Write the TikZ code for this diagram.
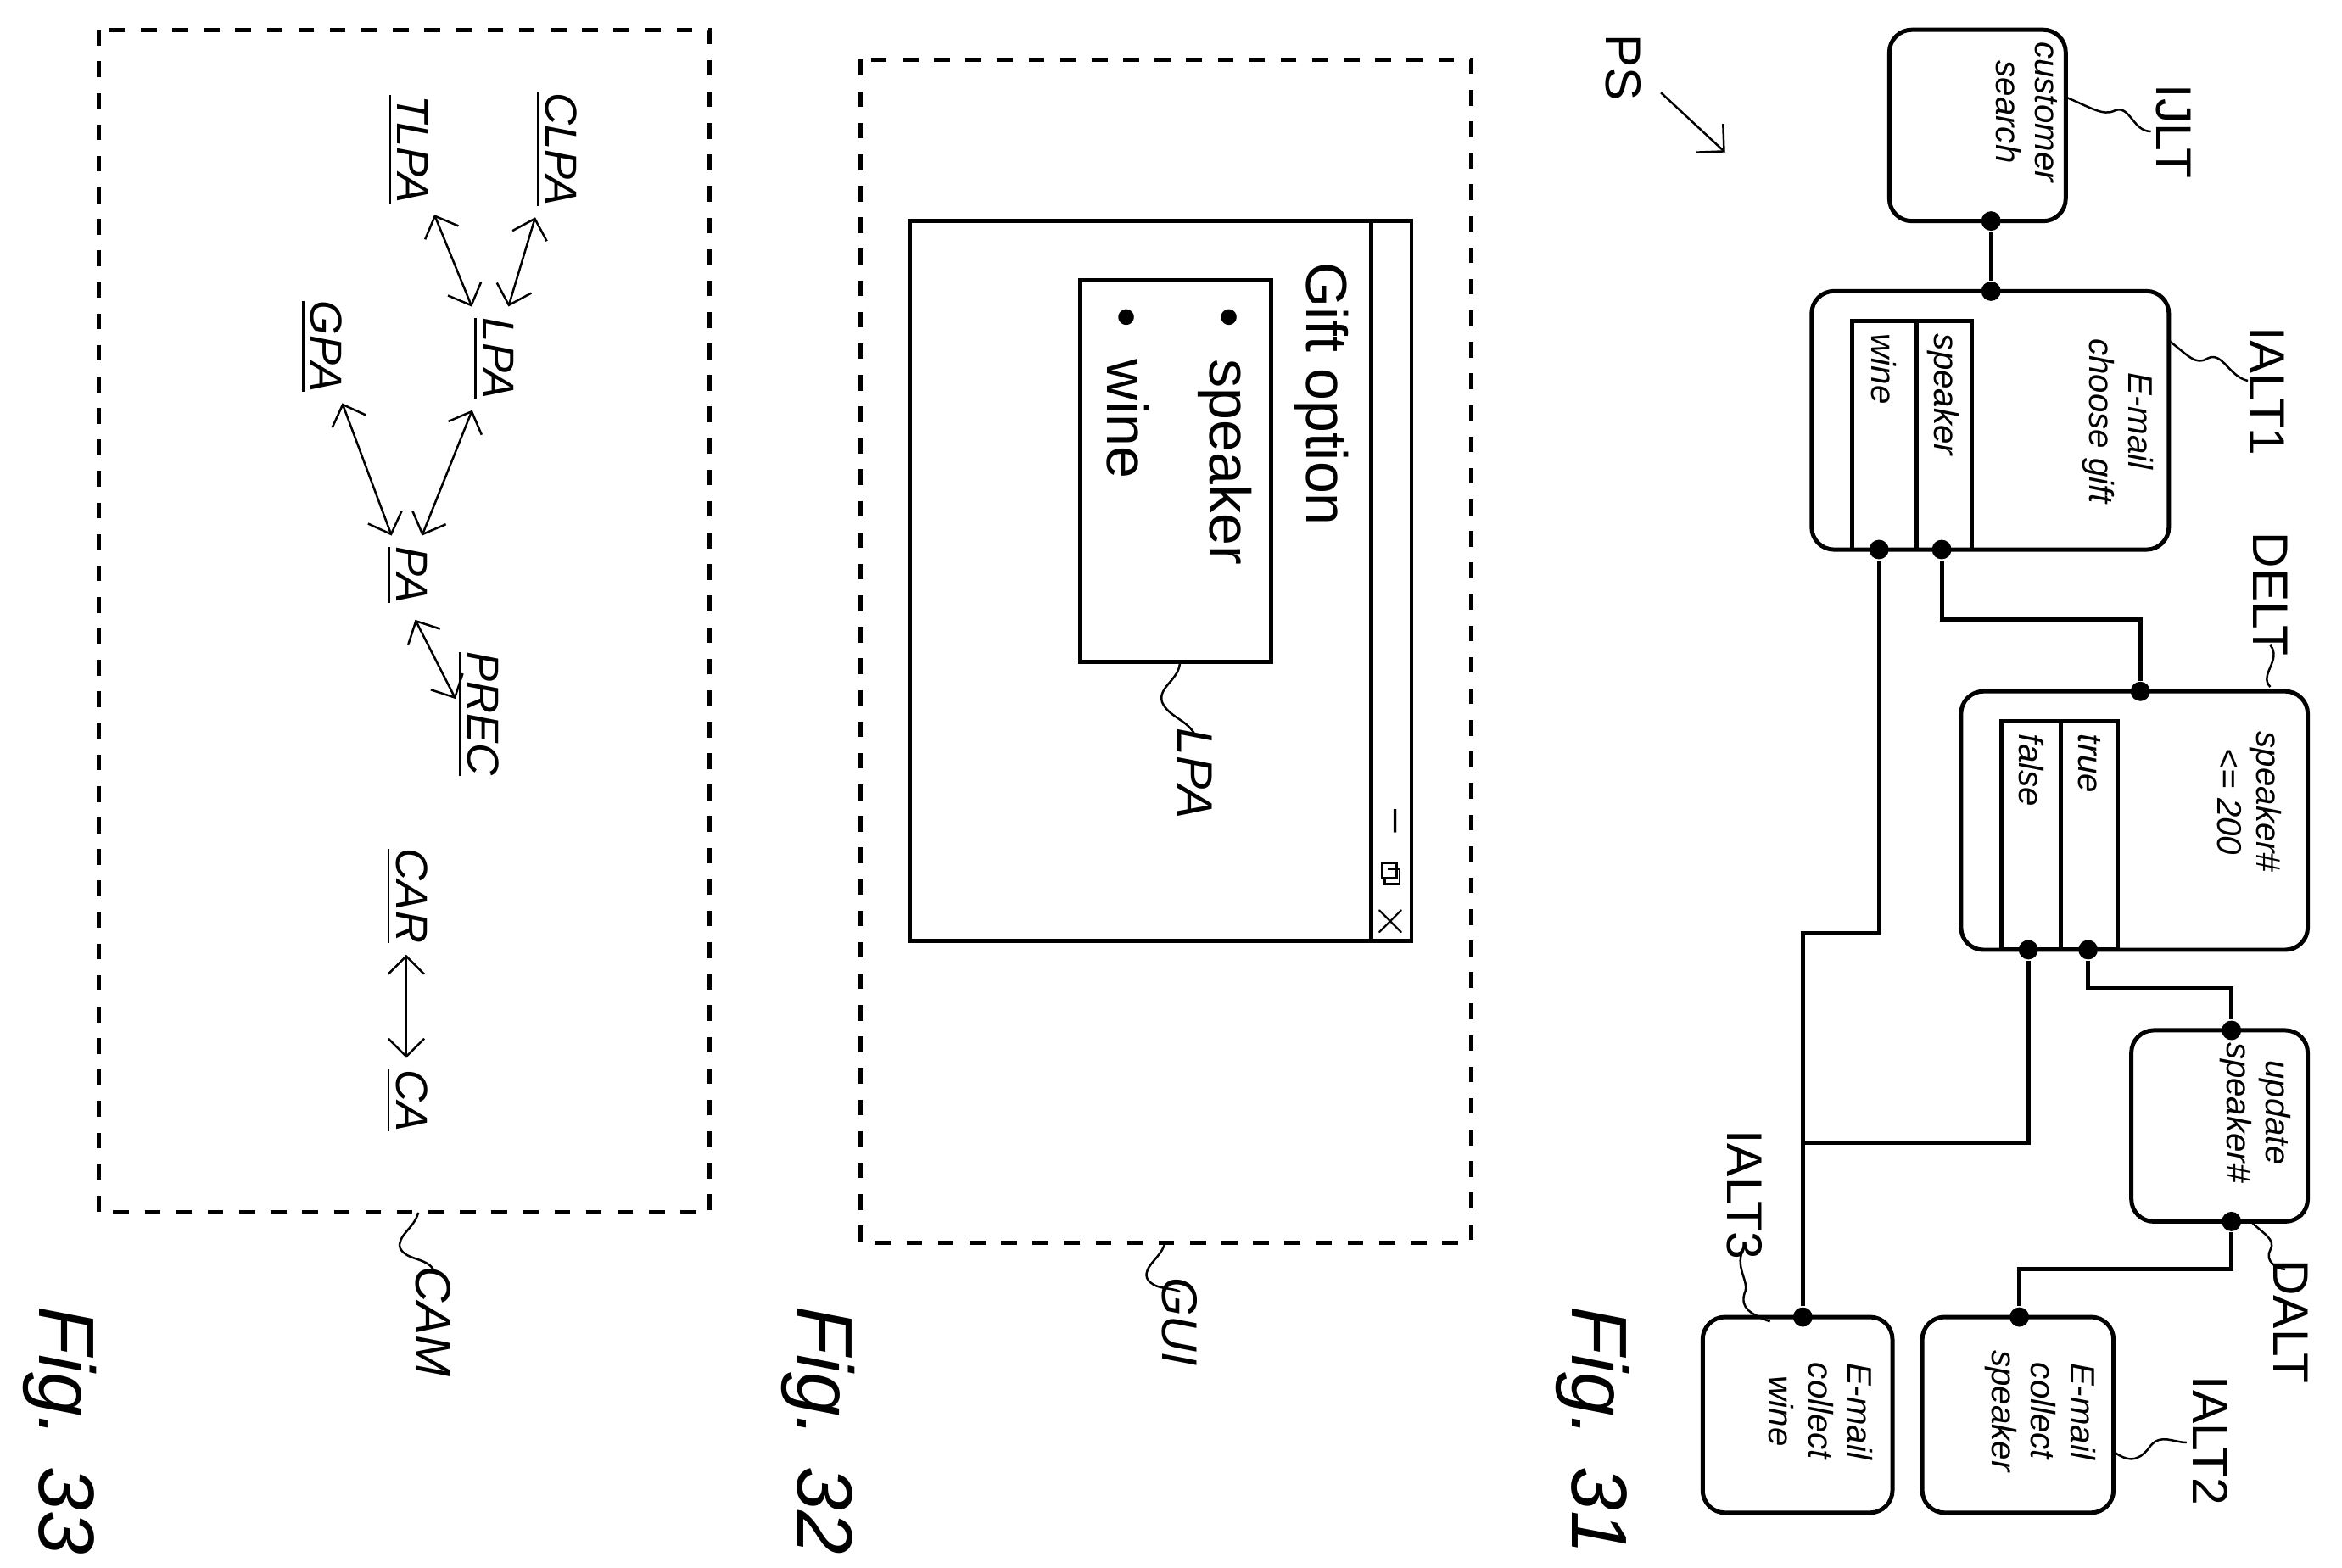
\documentclass[tikz,border=0pt]{standalone}
\usepackage{fontspec}
\setmainfont{Liberation Sans}
\usetikzlibrary{arrows.meta, positioning}
\tikzset{
  box/.style = {draw, thick, rounded corners=0.15cm, rotate=-90, inner sep=0pt},
  boxtxt/.style = {rotate=-90, align=center, inner sep=0pt,
    font=\fontsize{6.5}{7.5}\selectfont\itshape},
  coltxt/.style = {rotate=-90, anchor=west, inner sep=0pt,
    font=\fontsize{6.5}{7.5}\selectfont\itshape},
  lbl/.style = {rotate=-90, inner sep=0pt, font=\fontsize{9.5}{10}\selectfont},
  ilbl/.style = {rotate=-90, inner sep=0pt, font=\fontsize{9.5}{10}\selectfont\itshape},
  ulbl/.style = {rotate=-90, inner sep=1pt, font=\fontsize{8.5}{9}\selectfont\itshape},
  fig/.style = {rotate=-90, inner sep=0pt, font=\fontsize{15}{17}\selectfont\itshape},
  dot/.style = {circle, fill, inner sep=0pt, minimum size=0.13cm},
  wire/.style = {thick},
  frame/.style = {thick, dashed},
  squig/.style = {thin},
  pa/.style = {{Straight Barb[length=1.2mm]}-{Straight Barb[length=1.2mm]}, thin, shorten <=1pt, shorten >=1pt}
}
\begin{document}
\begin{tikzpicture}[x=0.01cm, y=-0.01cm]
  \useasboundingbox (0,0) rectangle (1568,1050);

  %% Fig. 31

  % boxes
  \node[box, minimum width=1.28cm, minimum height=1.18cm] (ijlt) at (1324,84) {};
  \node[box, minimum width=1.73cm, minimum height=2.39cm] (ialt1) at (1332.5,281.5) {};
  \node[box, minimum width=1.73cm, minimum height=2.32cm] (delt) at (1429,549.5) {};
  \node[box, minimum width=1.28cm, minimum height=1.18cm] (dalt) at (1486,754) {};
  \node[box, minimum width=1.31cm, minimum height=1.28cm] (ialt2) at (1351,947.5) {};
  \node[box, minimum width=1.31cm, minimum height=1.27cm] (ialt3) at (1203.5,947.5) {};

  % texts
  \node[boxtxt] at (1357,75) {customer\\search};
  \node[boxtxt] at (1418,282) {E-mail\\choose gift};
  \node[boxtxt] at (1506,537) {speaker\#\\<= 200};
  \node[boxtxt] at (1510,745) {update\\speaker\#};
  \node[boxtxt] at (1366,945) {E-mail\\collect\\speaker};
  \node[boxtxt] at (1219,945) {E-mail\\collect\\wine};

  % columns
  \draw[thick] (1240,215) rectangle (1320,368) (1283,215) -- (1283,368);
  \node[coltxt] at (1301,223) {speaker};
  \node[coltxt] at (1261,223) {wine};
  \draw[thick] (1340,483) rectangle (1418,636) (1380,483) -- (1380,636);
  \node[coltxt] at (1399,491) {true};
  \node[coltxt] at (1360,491) {false};

  % dots
  \node[dot] (p1) at (1333,148) {};
  \node[dot] (p2) at (1333,195) {};
  \node[dot] (sp) at (1300,368) {};
  \node[dot] (wn) at (1258,368) {};
  \node[dot] (din) at (1433,463) {};
  \node[dot] (tr) at (1398,636) {};
  \node[dot] (fa) at (1358,636) {};
  \node[dot] (ain) at (1494,690) {};
  \node[dot] (aout) at (1494,818) {};
  \node[dot] (c2) at (1352,882) {};
  \node[dot] (c3) at (1207,882) {};

  % wires
  \draw[wire] (p1) -- (p2);
  \draw[wire] (sp) -- (1300,415) -| (din);
  \draw[wire] (tr) -- (1398,662) -| (ain);
  \draw[wire] (aout) -- (1494,850) -| (c2);
  \draw[wire] (wn) -- (1258,625) -| (c3);
  \draw[wire] (fa) -- (1358,765) -- (1207,765);

  % labels
  \node[lbl] (l-ijlt) at (1455,88) {IJLT};
  \draw[squig] (1383,65) .. controls (1400,72) and (1408,78) .. (1416,74) .. controls (1426,70) and (1428,88) .. (1440,88);
  \node[lbl] (l-ialt1) at (1518,262) {IALT1};
  \draw[squig] (1452,228) .. controls (1465,238) and (1470,245) .. (1478,240) .. controls (1488,235) and (1492,252) .. (1505,255);
  \node[lbl] (l-delt) at (1520,398) {DELT};
  \draw[squig] (1520,460) .. controls (1512,452) and (1528,442) .. (1520,432);
  \node[lbl] (l-dalt) at (1534,885) {DALT};
  \draw[squig] (1507,818) .. controls (1515,826) and (1524,830) .. (1520,837) .. controls (1516,844) and (1524,850) .. (1530,850);
  \node[lbl] (l-ialt2) at (1480,965) {IALT2};
  \draw[squig] (1415,972) .. controls (1428,982) and (1435,975) .. (1440,968) .. controls (1447,960) and (1455,966) .. (1464,966);
  \node[lbl] (l-ialt3) at (1168,800) {IALT3};
  \draw[squig] (1168,835) .. controls (1160,848) and (1172,858) .. (1168,866) .. controls (1165,876) and (1172,880) .. (1185,885);
  \node[lbl] (l-ps) at (1087,45) {PS};
  \coordinate (ps-end) at (1155,102);
  \draw[-{Straight Barb[length=1.3mm]}, thin] (1112,62) -- (ps-end);
  \node[fig] (f31) at (1066,958) {Fig. 31};

  %% Fig. 32

  \draw[frame] (576,40) rectangle (985,832);
  \draw[thick] (609,148) rectangle (945,630) (918,148) -- (918,630);
  \node[rotate=-90, font=\fontsize{8}{9}\selectfont] (min) at (931,550) {--};
  \draw[thin] (925,578) rectangle (935,588) (929,582) -- (937,582) -- (937,592) -- (927,592) -- (927,588);
  \node[rotate=-90, font=\fontsize{9}{10}\selectfont] (cls) at (931,617) {$\times$};
  \node[lbl, anchor=west, font=\fontsize{11}{12}\selectfont] (gift) at (885,175) {Gift option};
  \node[draw, thick, rotate=-90, minimum width=2.55cm, minimum height=1.28cm, inner sep=0pt] (lpa-box) at (787,315.5) {};
  \node[lbl, anchor=west, font=\fontsize{11}{12}\selectfont] (b1) at (820,205) {\textbullet\ \ speaker};
  \node[lbl, anchor=west, font=\fontsize{11}{12}\selectfont] (b2) at (755,205) {\textbullet\ \ wine};
  \node[ilbl] (l-lpa) at (800,518) {LPA};
  \draw[squig] (790,443) .. controls (790,455) and (775,460) .. (778,470) .. controls (782,480) and (795,482) .. (800,492);
  \node[ilbl] (l-gui) at (790,885) {GUI};
  \draw[squig] (780,832) .. controls (778,842) and (765,848) .. (768,856) .. controls (772,864) and (785,862) .. (790,865);
  \node[fig] (f32) at (548,958) {Fig. 32};

  %% Fig. 33

  \draw[frame] (66,20) rectangle (475,812);
  \node[ulbl] (clpa) at (372,100) {\underline{CLPA}};
  \node[ulbl] (tlpa) at (273,100) {\underline{TLPA}};
  \node[ulbl] (lpa) at (330,240) {\underline{LPA}};
  \node[ulbl] (gpa) at (215,232) {\underline{GPA}};
  \node[ulbl] (pa) at (272,385) {\underline{PA}};
  \node[ulbl] (prec) at (320,478) {\underline{PREC}};
  \node[ulbl] (car) at (272,600) {\underline{CAR}};
  \node[ulbl] (ca) at (272,737) {\underline{CA}};
  \coordinate (pa-r) at (278,415);
  \coordinate (prec-l) at (305,468);
  \draw[pa] (tlpa) -- (lpa);
  \draw[pa] (clpa) -- (lpa);
  \draw[pa] (lpa) -- (pa);
  \draw[pa] (gpa) -- (pa);
  \draw[pa, shorten <=0pt, shorten >=0pt] (pa-r) -- (prec-l);
  \draw[pa] (car) -- (ca);
  \node[ilbl] (l-cam) at (290,885) {CAM};
  \draw[squig] (280,812) .. controls (278,822) and (265,828) .. (268,836) .. controls (272,844) and (285,842) .. (290,850);
  \node[fig] (f33) at (40,958) {Fig. 33};
\end{tikzpicture}
\end{document}
